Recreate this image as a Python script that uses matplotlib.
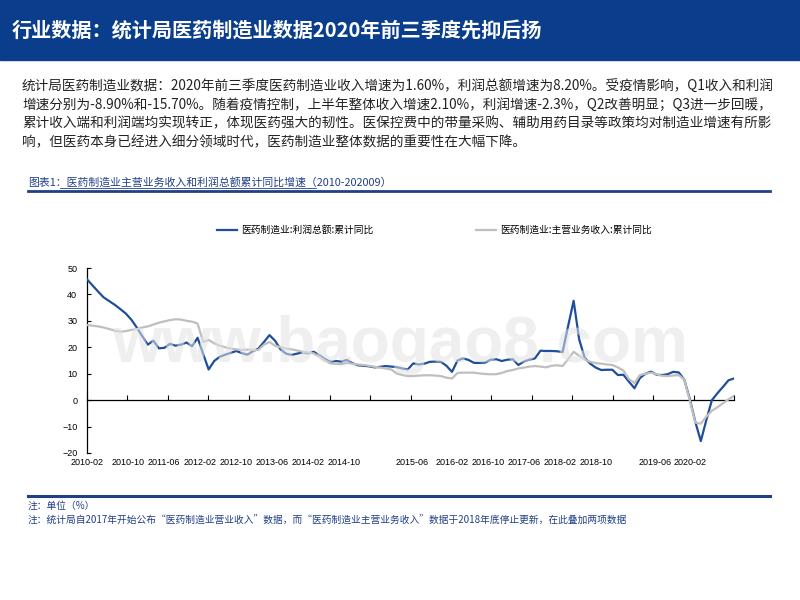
'''
医药制造业主营业务收入和利润总额累计同比增速 (2010-202009)
'''

import matplotlib
matplotlib.use('Agg')
import matplotlib.pyplot as plt
from matplotlib.patches import Rectangle
from matplotlib.lines import Line2D
import numpy as np

plt.rcParams['font.family'] = ['Noto Sans CJK SC', 'DejaVu Sans']

#-(1) -- data
# months: 2010-02 ... 2020-09, no January (Jan-Feb is reported together)
months = []
for yr in range(2010, 2021):
    for mo in range(2, 13):
        if yr == 2020 and mo > 9:
            break
        months.append('%d-%02d' % (yr, mo))

profit = [45.7, 43.4, 41.1, 38.9, 37.5, 36.1, 34.5, 32.8, 30.5, 27.5,
          24.2, 21.0, 22.5, 19.6, 19.8, 21.3, 20.6, 21.0, 21.8, 20.4,
          23.6, 17.5, 11.6, 14.8, 16.4, 17.2, 17.9, 18.6, 17.8, 17.2,
          18.5, 19.5, 22.0, 24.6, 22.5, 19.2, 17.6, 17.1, 17.6, 18.1,
          17.7, 18.3, 17.0, 15.6, 14.5, 14.8, 14.6, 15.2, 14.0, 13.2,
          13.0, 12.8, 12.4, 12.6, 12.9, 12.7, 12.5, 12.0, 11.6, 13.9,
          13.5, 13.8, 14.5, 14.6, 14.5, 13.0, 10.7, 15.0, 15.8, 15.2,
          14.1, 14.1, 14.2, 15.3, 15.5, 14.8, 15.3, 15.5, 13.3, 14.6,
          15.3, 15.8, 18.7, 18.6, 18.6, 18.5, 18.2, 28.0, 37.6, 23.0,
          16.0, 13.8, 12.3, 11.4, 11.5, 11.5, 9.5, 9.6, 7.0, 4.5,
          8.4, 10.0, 10.8, 9.6, 9.5, 9.8, 10.7, 10.5, 7.8, 0.5,
          -8.2, -15.5, -7.5, 0.0, 2.6, 5.0, 7.5, 8.2]

revenue = [28.4, 28.2, 27.9, 27.5, 26.9, 26.3, 25.9, 26.1, 26.6, 26.9,
           27.5, 27.9, 28.6, 29.3, 29.8, 30.3, 30.6, 30.5, 30.0, 29.7,
           29.0, 22.0, 22.8, 21.5, 20.6, 20.0, 19.5, 19.2, 19.0, 19.1,
           19.0, 19.0, 21.0, 22.0, 20.6, 20.0, 19.5, 19.2, 18.8, 18.3,
           18.0, 17.7, 16.5, 15.0, 13.9, 13.7, 13.6, 14.1, 13.8, 13.5,
           13.3, 13.0, 12.6, 12.3, 12.0, 11.6, 10.1, 9.5, 9.1, 9.1,
           9.3, 9.4, 9.4, 9.3, 9.1, 8.5, 8.2, 10.3, 10.4, 10.4,
           10.4, 10.1, 9.9, 9.8, 9.8, 10.3, 11.0, 11.4, 12.0, 12.3,
           12.7, 12.9, 12.7, 12.4, 13.0, 13.2, 12.9, 15.5, 18.3, 16.8,
           15.4, 14.5, 14.0, 13.8, 13.5, 13.3, 12.4, 11.2, 8.0, 6.5,
           9.5, 10.0, 10.4, 9.8, 9.2, 9.1, 9.3, 9.5, 7.8, 0.0,
           -8.5, -8.9, -6.2, -4.0, -2.7, -1.2, 0.3, 1.6]

shown_labels = ['2010-02', '2010-10', '2011-06', '2012-02', '2012-10', '2013-06',
                '2014-02', '2014-10', '2015-06', '2016-02', '2016-10', '2017-06',
                '2018-02', '2018-10', '2019-06', '2020-02']
# where the chart software put those labels (in category units)
label_pos = [0, 7.4, 13.9, 20.4, 26.9, 33.5, 40, 46.5, 58.8, 66, 72.5, 79,
             85.5, 92, 102.7, 109]

name_profit = '医药制造业:利润总额:累计同比'
name_revenue = '医药制造业:主营业务收入:累计同比'

head_title = '行业数据：统计局医药制造业数据2020年前三季度先抑后扬'
body = ['统计局医药制造业数据：2020年前三季度医药制造业收入增速为1.60%，利润总额增速为8.20%。受疫情影响，Q1收入和利润',
        '增速分别为-8.90%和-15.70%。随着疫情控制，上半年整体收入增速2.10%，利润增速-2.3%，Q2改善明显；Q3进一步回暖，',
        '累计收入端和利润端均实现转正，体现医药强大的韧性。医保控费中的带量采购、辅助用药目录等政策均对制造业增速有所影',
        '响，但医药本身已经进入细分领域时代，医药制造业整体数据的重要性在大幅下降。']
chart_title = '图表1：医药制造业主营业务收入和利润总额累计同比增速（2010-202009）'
notes = ['注：单位（%）',
         '注：统计局自2017年开始公布“医药制造业营业收入”数据，而“医药制造业主营业务收入”数据于2018年底停止更新，在此叠加两项数据']

BLUE = '#1f4e9a'
GRAY = '#bfbfbf'
DARK = '#0a3d8c'
NAVY = '#1f3f86'

W, H = 800, 600
def fx(px): return px / W
def fy(py): return 1 - py / H

#-(2) -- figure
fig = plt.figure(figsize=(8, 6), dpi=100)

# header band
fig.patches.append(Rectangle((0, fy(60)), 1, 60 / H, transform=fig.transFigure,
                             color=DARK, zorder=0))
fig.text(fx(12), fy(30), head_title, color='white', fontsize=14.5,
         fontweight='bold', va='center', ha='left')

for k, line in enumerate(body):
    fig.text(fx(22), fy(87 + 18.3 * k), line, color='#222222', fontsize=9.8,
             va='center', ha='left')

fig.text(fx(28), fy(182), chart_title, color=NAVY, fontsize=7.8,
         va='center', ha='left')
fig.add_artist(Line2D([fx(60), fx(316)], [fy(187.5), fy(187.5)],
                      transform=fig.transFigure, color=NAVY, lw=0.6))
fig.add_artist(Line2D([fx(28), fx(770)], [fy(190.5), fy(190.5)],
                      transform=fig.transFigure, color=NAVY, lw=2))

fig.add_artist(Line2D([fx(28), fx(770)], [fy(496), fy(496)],
                      transform=fig.transFigure, color=NAVY, lw=2.2))
for k, line in enumerate(notes):
    fig.text(fx(28), fy(506 + 15 * k), line, color=NAVY, fontsize=7,
             va='center', ha='left')

#-(3) -- plot
ax = fig.add_axes([fx(87), fy(453), fx(734) - fx(87), (453 - 268) / H])
x = np.arange(len(months))
ax.plot(x, profit, color=BLUE, lw=1.6, label=name_profit, zorder=3)
ax.plot(x, revenue, color=GRAY, lw=1.6, label=name_revenue, zorder=4)

ax.set_xlim(0, len(months) - 1)
ax.set_ylim(-20, 50)
ax.set_yticks(range(-20, 51, 10))
ax.tick_params(axis='y', direction='in', length=3, width=0.8, pad=7,
               labelsize=6.5, labelfontfamily='Liberation Sans')
for s in ['top', 'right']:
    ax.spines[s].set_visible(False)
ax.spines['left'].set_linewidth(0.9)
ax.spines['bottom'].set_position(('data', 0))
ax.spines['bottom'].set_linewidth(0.9)
ax.set_xticks(np.linspace(0, len(months) - 1, 17))
ax.tick_params(axis='x', direction='in', length=3.5, width=0.8, labelbottom=False)

for lab, p in zip(shown_labels, label_pos):
    ax.text(p, -0.025, lab, transform=ax.get_xaxis_transform(), ha='center',
            va='top', fontsize=6.5, family='Liberation Sans')

# watermark
ax.text(0.5, fy(362), 'www.baogao8.com', transform=fig.transFigure, ha='center',
        va='baseline', fontsize=46, fontweight='bold', family='Liberation Sans',
        color='#e2e2e2', alpha=0.55, zorder=10)

leg = ax.legend(loc='center left', bbox_to_anchor=(fx(217), fy(230)),
                bbox_transform=fig.transFigure, ncol=2, frameon=False,
                fontsize=7, handlelength=2.1, handletextpad=0.4,
                columnspacing=10.5, borderpad=0, borderaxespad=0)

fig.savefig('out.png', dpi=100)
